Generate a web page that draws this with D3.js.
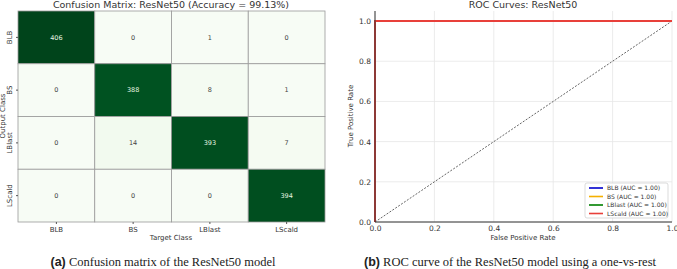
<!DOCTYPE html>
<html>
<head>
<meta charset="utf-8">
<script src="https://cdn.jsdelivr.net/npm/d3@7"></script>
<style>
  body { margin: 0; background: #fff; }
  svg { display: block; }
  .sans { font-family: "DejaVu Sans", sans-serif; fill: #333; }
  .cap { font-family: "Liberation Serif", serif; font-size: 12.5px; fill: #222; }
</style>
</head>
<body>
<div id="chart"></div>
<script>
// confusion matrix data
var classes = ["BLB", "BS", "LBlast", "LScald"];
var matrix = [
    [406, 0, 1, 0],
    [0, 388, 8, 1],
    [0, 14, 393, 7],
    [0, 0, 0, 394]
];
var accuracy = "99.13%";

// roc data
var rocNames = ["BLB", "BS", "LBlast", "LScald"];
var rocAuc = [1.00, 1.00, 1.00, 1.00];
var rocColors = ["#0000cc", "#f5b000", "#008000", "#e8403a"];
var rocFpr = [0, 0, 1];
var rocTpr = [0, 1, 1];
var ticks = [0, 0.2, 0.4, 0.6, 0.8, 1.0];

var svg = d3.select("#chart").append("svg")
    .attr("width", 677)
    .attr("height", 269);

// ---------- left: confusion matrix ----------
var cm = svg.append("g");
var cx = d3.scaleBand().domain(classes).range([18, 325]);
var cy = d3.scaleBand().domain(classes).range([11, 222]);
var color = d3.scaleSequential(d3.interpolateGreens).domain([0, 406]);

var cells = [];
matrix.forEach(function(row, i) {
    row.forEach(function(v, j) {
        cells.push({ r: classes[i], c: classes[j], v: v });
    });
});

cm.selectAll("rect.cell")
    .data(cells)
    .enter().append("rect")
    .attr("class", "cell")
    .attr("x", function(d) { return cx(d.c); })
    .attr("y", function(d) { return cy(d.r); })
    .attr("width", cx.bandwidth())
    .attr("height", cy.bandwidth())
    .style("fill", function(d) { return color(d.v); })
    .style("stroke", "#9a9a9a")
    .style("stroke-width", 0.8);

cm.selectAll("text.val")
    .data(cells)
    .enter().append("text")
    .attr("class", "val")
    .attr("x", function(d) { return cx(d.c) + cx.bandwidth() / 2; })
    .attr("y", function(d) { return cy(d.r) + cy.bandwidth() / 2; })
    .attr("dy", "0.35em")
    .attr("text-anchor", "middle")
    .style("font-family", "DejaVu Sans, sans-serif")
    .style("font-size", "6.5px")
    .style("fill", function(d) { return d.v > 200 ? "#e5f5e0" : "#444"; })
    .text(function(d) { return d.v; });

var cxAxis = cm.append("g")
    .attr("transform", "translate(0,222)")
    .call(d3.axisBottom(cx).tickSize(2).tickPadding(3));
var cyAxis = cm.append("g")
    .attr("transform", "translate(18,0)")
    .call(d3.axisLeft(cy).tickSize(2).tickPadding(3));
[cxAxis, cyAxis].forEach(function(a) {
    a.select(".domain").remove();
    a.selectAll("line").style("stroke", "#555");
    a.selectAll("text").attr("class", "sans").style("font-size", "7px");
});
cyAxis.selectAll("text")
    .attr("transform", function(d) { return "rotate(-90," + (-5) + "," + cy(d) + ")"; })
    .attr("x", -5)
    .attr("y", function(d) { return cy(d) + cy.bandwidth() / 2; })
    .attr("dy", 0)
    .style("text-anchor", "middle");
cyAxis.selectAll(".tick").attr("transform", "translate(0,0)");
cyAxis.selectAll(".tick line")
    .attr("transform", function(d) { return "translate(0," + (cy(d) + cy.bandwidth() / 2) + ")"; });
cyAxis.selectAll("text")
    .attr("transform", function(d) {
        var y = cy(d) + cy.bandwidth() / 2;
        return "translate(-6," + y + ") rotate(-90)";
    })
    .attr("x", 0).attr("y", 0);

cm.append("text").attr("class", "sans")
    .attr("x", 171).attr("y", 8)
    .attr("text-anchor", "middle")
    .style("font-size", "9.5px")
    .text("Confusion Matrix: ResNet50 (Accuracy = " + accuracy + ")");
cm.append("text").attr("class", "sans")
    .attr("x", 171).attr("y", 240)
    .attr("text-anchor", "middle")
    .style("font-size", "7px")
    .text("Target Class");
cm.append("text").attr("class", "sans")
    .attr("transform", "translate(5,116) rotate(-90)")
    .attr("text-anchor", "middle")
    .style("font-size", "7px")
    .text("Output Class");

var capA = svg.append("text").attr("class", "cap")
    .attr("x", 163).attr("y", 266)
    .attr("text-anchor", "middle");
capA.append("tspan").style("font-family", "Liberation Sans, sans-serif").style("font-weight", "bold").text("(a)");
capA.append("tspan").text(" Confusion matrix of the ResNet50 model");

// ---------- right: ROC ----------
var roc = svg.append("g");
var x = d3.scaleLinear().domain([0, 1]).range([375, 672]);
var y = d3.scaleLinear().domain([0, 1.05]).range([222, 11]);

roc.append("g").selectAll("line.gx")
    .data(ticks).enter().append("line")
    .attr("x1", function(d) { return x(d); }).attr("x2", function(d) { return x(d); })
    .attr("y1", y(1.05)).attr("y2", y(0))
    .style("stroke", "#e6e6e6").style("stroke-width", 0.8);
roc.append("g").selectAll("line.gy")
    .data(ticks).enter().append("line")
    .attr("x1", x(0)).attr("x2", x(1))
    .attr("y1", function(d) { return y(d); }).attr("y2", function(d) { return y(d); })
    .style("stroke", "#e6e6e6").style("stroke-width", 0.8);

roc.append("line")
    .attr("x1", x(0)).attr("y1", y(0)).attr("x2", x(1)).attr("y2", y(1))
    .style("stroke", "#222").style("stroke-width", 0.7)
    .style("stroke-dasharray", "2,1.5");

var line = d3.line()
    .x(function(d) { return x(d[0]); })
    .y(function(d) { return y(d[1]); });
rocNames.forEach(function(n, i) {
    roc.append("path")
        .datum(d3.zip(rocFpr, rocTpr))
        .attr("d", line)
        .style("fill", "none")
        .style("stroke", rocColors[i])
        .style("stroke-width", 2);
});

var rxAxis = roc.append("g")
    .attr("transform", "translate(0," + y(0) + ")")
    .call(d3.axisBottom(x).tickValues(ticks).tickFormat(d3.format(".1f")).tickSize(0).tickPadding(4));
var ryAxis = roc.append("g")
    .attr("transform", "translate(" + x(0) + ",0)")
    .call(d3.axisLeft(y).tickValues(ticks).tickFormat(d3.format(".1f")).tickSize(0).tickPadding(4));
[rxAxis, ryAxis].forEach(function(a) {
    a.select(".domain").style("stroke", "#333").style("stroke-width", 1);
    a.selectAll("text").attr("class", "sans").style("font-size", "7.5px");
});
rxAxis.select(".domain").attr("d", "M" + x(0) + ",0H" + x(1));
ryAxis.select(".domain").attr("d", "M0," + y(0) + "V" + y(1.05));

roc.append("text").attr("class", "sans")
    .attr("x", 523).attr("y", 8)
    .attr("text-anchor", "middle")
    .style("font-size", "9.5px")
    .text("ROC Curves: ResNet50");
roc.append("text").attr("class", "sans")
    .attr("x", 523).attr("y", 240)
    .attr("text-anchor", "middle")
    .style("font-size", "7px")
    .text("False Positive Rate");
roc.append("text").attr("class", "sans")
    .attr("transform", "translate(353,116) rotate(-90)")
    .attr("text-anchor", "middle")
    .style("font-size", "7px")
    .text("True Positive Rate");

var lg = roc.append("g").attr("transform", "translate(585,183)");
lg.append("rect")
    .attr("width", 83).attr("height", 35).attr("rx", 2)
    .style("fill", "#fff").style("fill-opacity", 0.9)
    .style("stroke", "#ccc").style("stroke-width", 0.7);
rocNames.forEach(function(n, i) {
    var ly = 5 + i * 8.5;
    lg.append("line")
        .attr("x1", 4).attr("x2", 18).attr("y1", ly).attr("y2", ly)
        .style("stroke", rocColors[i]).style("stroke-width", 1.6);
    lg.append("text").attr("class", "sans")
        .attr("x", 22).attr("y", ly).attr("dy", "0.35em")
        .style("font-size", "6px")
        .text(n + " (AUC = " + d3.format(".2f")(rocAuc[i]) + ")");
});

var capB = svg.append("text").attr("class", "cap")
    .attr("x", 510).attr("y", 266)
    .attr("text-anchor", "middle");
capB.append("tspan").style("font-family", "Liberation Sans, sans-serif").style("font-weight", "bold").text("(b)");
capB.append("tspan").text(" ROC curve of the ResNet50 model using a one-vs-rest");
</script>
</body>
</html>
